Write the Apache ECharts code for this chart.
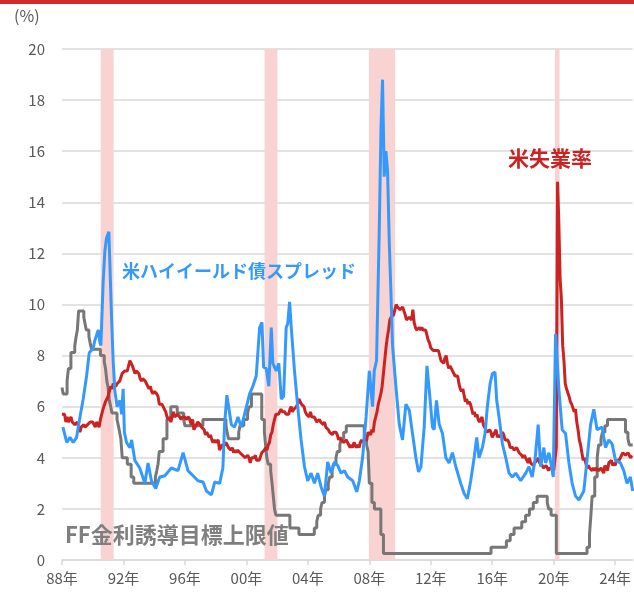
<!DOCTYPE html>
<html>
<head>
<meta charset="utf-8">
<script src="https://cdn.jsdelivr.net/npm/echarts@6/dist/echarts.min.js"></script>
<style>
html,body{margin:0;padding:0;background:#fff;}
#chart{width:634px;height:598px;}
</style>
</head>
<body>
<div id="chart"></div>
<script>
// ---- Data ----
// US unemployment rate, monthly from Jan 1988
const unempStartYear = 1988;
const unempMonthly = [
5.7,5.7,5.7,5.4,5.6,5.4,5.4,5.6,5.4,5.4,5.3,5.3,
5.4,5.2,5.0,5.2,5.2,5.3,5.2,5.2,5.3,5.3,5.4,5.4,
5.4,5.3,5.2,5.4,5.4,5.2,5.5,5.7,5.9,5.9,6.2,6.3,
6.4,6.6,6.8,6.7,6.9,6.9,6.8,6.9,6.9,7.0,7.0,7.3,
7.3,7.4,7.4,7.4,7.6,7.8,7.7,7.6,7.6,7.3,7.4,7.4,
7.3,7.1,7.0,7.1,7.1,7.0,6.9,6.8,6.7,6.8,6.6,6.5,
6.6,6.6,6.5,6.4,6.1,6.1,6.1,6.0,5.9,5.8,5.6,5.5,
5.6,5.4,5.4,5.8,5.6,5.6,5.7,5.7,5.6,5.5,5.6,5.6,
5.6,5.5,5.5,5.6,5.6,5.3,5.5,5.1,5.2,5.2,5.4,5.4,
5.3,5.2,5.2,5.1,4.9,5.0,4.9,4.8,4.9,4.7,4.6,4.7,
4.6,4.6,4.7,4.3,4.4,4.5,4.5,4.5,4.6,4.5,4.4,4.4,
4.3,4.4,4.2,4.3,4.2,4.3,4.3,4.2,4.2,4.1,4.1,4.0,
4.0,4.1,4.0,3.8,4.0,4.0,4.0,4.1,3.9,3.9,3.9,3.9,
4.2,4.2,4.3,4.4,4.3,4.5,4.6,4.9,5.0,5.3,5.5,5.7,
5.7,5.7,5.7,5.9,5.8,5.8,5.8,5.7,5.7,5.7,5.9,6.0,
5.8,5.9,5.9,6.0,6.1,6.3,6.2,6.1,6.1,6.0,5.8,5.7,
5.7,5.6,5.8,5.6,5.6,5.6,5.5,5.4,5.4,5.5,5.4,5.4,
5.3,5.4,5.2,5.2,5.1,5.0,5.0,4.9,5.0,5.0,5.0,4.9,
4.7,4.8,4.7,4.7,4.6,4.6,4.7,4.7,4.5,4.4,4.5,4.4,
4.6,4.5,4.4,4.5,4.4,4.6,4.7,4.6,4.7,4.7,4.7,5.0,
5.0,4.9,5.1,5.0,5.4,5.6,5.8,6.1,6.1,6.5,6.8,7.3,
7.8,8.3,8.7,9.0,9.4,9.5,9.5,9.6,9.8,10.0,9.9,9.9,
9.8,9.8,9.9,9.9,9.6,9.4,9.4,9.5,9.5,9.4,9.8,9.3,
9.1,9.0,9.0,9.1,9.0,9.1,9.0,9.0,9.0,8.8,8.6,8.5,
8.3,8.3,8.2,8.2,8.2,8.2,8.2,8.0,7.8,7.8,7.7,7.9,
8.0,7.7,7.5,7.6,7.5,7.5,7.3,7.2,7.2,7.2,6.9,6.7,
6.6,6.7,6.7,6.2,6.3,6.1,6.2,6.1,5.9,5.7,5.8,5.6,
5.7,5.5,5.4,5.4,5.6,5.3,5.2,5.1,5.0,5.0,5.1,5.0,
4.8,4.9,5.0,5.1,4.8,4.9,4.8,4.9,5.0,4.9,4.7,4.7,
4.7,4.6,4.4,4.4,4.4,4.3,4.3,4.4,4.3,4.2,4.2,4.1,
4.0,4.1,4.0,4.0,3.8,4.0,3.8,3.8,3.7,3.8,3.8,3.9,
4.0,3.8,3.8,3.7,3.6,3.6,3.7,3.6,3.5,3.6,3.6,3.6,
3.5,3.5,4.4,14.8,13.2,11.0,10.2,8.4,7.8,6.9,6.7,6.7,
6.4,6.2,6.1,6.1,5.8,5.9,5.4,5.1,4.7,4.5,4.2,3.9,
4.0,3.8,3.6,3.7,3.6,3.6,3.5,3.6,3.5,3.6,3.6,3.5,
3.5,3.6,3.5,3.4,3.7,3.6,3.5,3.8,3.8,3.9,3.7,3.8,
3.7,3.9,3.9,3.9,4.0,4.1,4.2,4.2,4.1,4.1,4.2,4.1,
4.0,4.1
];

// FF rate target (upper limit): change dates (decimal years) and levels
const ffDates = [1988.00,1988.08,1988.33,1988.42,1988.58,1988.83,1988.92,1989.00,1989.08,1989.42,1989.50,1989.58,1989.75,1989.83,1989.92,
1990.50,1990.75,1990.83,1990.92,1991.00,1991.08,1991.17,1991.25,1991.58,1991.67,1991.75,1991.83,1991.92,1992.25,1992.50,1992.67,
1994.08,1994.17,1994.25,1994.33,1994.58,1994.83,1995.08,1995.50,1995.92,1996.00,1997.17,1998.67,1998.75,1998.83,1999.50,1999.58,1999.83,
2000.08,2000.17,2000.33,2001.00,2001.17,2001.25,2001.33,2001.42,2001.58,2001.67,2001.75,2001.83,2001.92,2002.83,2003.42,
2004.42,2004.58,2004.67,2004.83,2004.92,2005.08,2005.17,2005.33,2005.42,2005.58,2005.67,2005.83,2005.92,2006.08,2006.17,2006.33,2006.50,
2007.67,2007.83,2007.92,2008.00,2008.17,2008.33,2008.75,2008.92,2015.92,2016.92,2017.17,2017.42,2017.92,2018.17,2018.42,2018.67,2018.92,
2019.58,2019.67,2019.83,2020.17,2022.17,2022.33,2022.42,2022.50,2022.67,2022.83,2022.92,2023.08,2023.17,2023.33,2023.50,
2024.67,2024.83,2024.92,2025.14];
const ffRates = [6.75,6.5,7.0,7.5,8.125,8.375,8.75,9.0,9.75,9.5,9.25,9.0,8.75,8.5,8.25,
8.0,7.75,7.5,7.0,6.75,6.25,6.0,5.75,5.5,5.25,5.0,4.75,4.0,3.75,3.25,3.0,
3.25,3.5,3.75,4.25,4.75,5.5,6.0,5.75,5.5,5.25,5.5,5.25,5.0,4.75,5.0,5.25,5.5,
5.75,6.0,6.5,5.5,5.0,4.5,4.0,3.75,3.5,3.0,2.5,2.0,1.75,1.25,1.0,
1.25,1.5,1.75,2.0,2.25,2.5,2.75,3.0,3.25,3.5,3.75,4.0,4.25,4.5,4.75,5.0,5.25,
4.75,4.5,4.25,3.0,2.25,2.0,1.0,0.25,0.5,0.75,1.0,1.25,1.5,1.75,2.0,2.25,2.5,
2.25,2.0,1.75,0.25,0.5,1.0,1.75,2.5,3.25,4.0,4.5,4.75,5.0,5.25,5.5,
5.0,4.75,4.5,4.5];

// US high-yield bond spread
const hyDates = [1988.06,1988.31,1988.52,1988.73,1988.95,1989.17,1989.38,1989.60,1989.77,1990.03,1990.14,1990.36,1990.47,1990.53,1990.68,1990.79,1990.90,1991.05,
1991.23,1991.33,1991.44,1991.59,1991.77,1991.88,1991.98,1992.06,1992.20,1992.42,1992.53,1992.74,1993.06,1993.39,1993.60,1993.82,1994.10,1994.36,1994.69,
1995.12,1995.55,1995.88,1996.20,1996.53,1996.85,1997.18,1997.40,1997.72,1997.94,1998.26,1998.47,1998.58,1998.73,1999.02,1999.23,1999.45,1999.67,1999.88,
2000.21,2000.42,2000.64,2000.86,2001.01,2001.12,2001.29,2001.46,2001.62,2001.72,2001.94,2002.11,2002.27,2002.42,2002.59,2002.69,2002.81,2002.92,
2003.13,2003.34,2003.56,2003.78,2003.99,2004.21,2004.43,2004.64,2004.86,2005.08,2005.29,2005.51,2005.73,2005.94,2006.16,2006.38,2006.59,2006.92,
2007.18,2007.35,2007.56,2007.79,2008.00,2008.21,2008.32,2008.47,2008.65,2008.76,2008.86,2008.97,2009.08,2009.19,2009.30,2009.41,2009.51,2009.73,2009.95,
2010.16,2010.38,2010.60,2010.81,2011.03,2011.20,2011.36,2011.57,2011.75,2011.90,2012.01,2012.11,2012.22,2012.37,2012.55,2012.76,2012.98,
2013.19,2013.41,2013.63,2013.95,2014.17,2014.38,2014.60,2014.82,2014.99,2015.14,2015.36,2015.53,2015.68,2015.86,2016.01,2016.18,2016.29,2016.44,2016.66,2016.88,
2017.09,2017.31,2017.53,2017.85,2018.18,2018.39,2018.60,2018.78,2018.99,2019.15,2019.36,2019.47,2019.69,2019.86,2019.97,2020.12,2020.34,2020.55,2020.77,2020.99,
2021.20,2021.42,2021.64,2021.96,2022.18,2022.40,2022.61,2022.82,2023.15,2023.37,2023.58,2023.80,2024.02,2024.34,2024.56,2024.77,2024.99,2025.14];
const hyValues = [5.2,4.6,4.8,4.6,4.8,5.6,6.3,7.2,8.1,8.3,8.6,9.0,8.5,8.4,10.9,12.1,12.6,12.85,
9.4,7.8,6.6,6.0,6.25,5.7,6.7,5.0,4.6,4.4,4.7,3.9,3.6,3.0,3.8,3.1,2.8,3.25,3.3,
3.6,3.5,4.2,3.5,3.3,3.1,3.05,2.7,2.55,3.05,3.0,3.6,5.3,6.45,5.3,5.2,5.6,5.2,5.7,
6.5,6.8,7.2,9.1,9.3,7.55,7.5,6.8,9.1,7.7,7.4,7.7,6.3,6.4,9.1,9.25,10.1,9.1,
7.4,6.0,4.7,3.65,3.1,3.4,3.0,3.4,2.86,2.5,3.84,3.4,3.84,3.7,3.4,3.5,3.25,3.1,
2.67,3.1,4.0,5.6,7.4,6.0,7.4,7.8,13.0,16.9,18.8,15.0,16.0,15.2,12.4,10.4,8.4,6.8,5.3,
4.7,6.1,5.86,4.95,4.0,3.45,3.65,5.2,7.6,6.65,6.7,5.2,5.1,6.25,5.3,4.95,4.0,
3.8,4.2,3.65,3.0,2.6,2.4,3.1,4.0,4.8,4.0,4.4,4.95,6.0,6.9,7.3,7.35,6.25,5.6,4.55,4.0,
3.4,3.25,3.4,3.1,3.4,3.65,3.25,3.9,5.3,3.65,4.4,3.8,4.2,3.65,3.25,8.85,6.65,5.1,4.95,3.8,
3.0,2.5,2.35,2.7,4.0,5.3,5.9,5.1,5.2,4.4,4.7,4.55,3.9,3.8,3.5,3.0,3.25,2.7];

// Recession periods (decimal years)
const recessionStart = [1990.52, 2001.18, 2007.97, 2020.08];
const recessionEnd   = [1991.36, 2002.02, 2009.68, 2020.38];

// Axis
const xMin = 1988, xMax = 2025.14, xInterval = 4;
const yMin = 0, yMax = 20, yInterval = 2;

// ---- Chart ----
const unempData = unempMonthly.map((v, i) => [unempStartYear + i / 12, v]);
const ffData = ffDates.map((d, i) => [d, ffRates[i]]);
const hyData = hyDates.map((d, i) => [d, hyValues[i]]);
const bands = recessionStart.map((s, i) => [{xAxis: s}, {xAxis: recessionEnd[i]}]);

const FONT = '"Noto Sans CJK JP", "Noto Sans", sans-serif';
const chart = echarts.init(document.getElementById('chart'), null, {renderer: 'canvas'});
chart.setOption({
  animation: false,
  backgroundColor: '#ffffff',
  grid: {left: 62, right: 0, top: 49, bottom: 38, containLabel: false},
  xAxis: {
    type: 'value', min: xMin, max: xMax, interval: xInterval,
    axisLine: {show: true, lineStyle: {color: '#d9d9d9', width: 1.5}},
    axisTick: {show: true, length: 5, lineStyle: {color: '#d9d9d9', width: 1.5}},
    splitLine: {show: false},
    axisLabel: {
      color: '#595959', fontSize: 15, fontFamily: FONT, margin: 11,
      showMaxLabel: false,
      formatter: v => String(Math.round(v) % 100).padStart(2, '0') + '年'
    }
  },
  yAxis: {
    type: 'value', min: yMin, max: yMax, interval: yInterval,
    axisLine: {show: false}, axisTick: {show: false},
    splitLine: {lineStyle: {color: '#d9d9d9', width: 1.5}},
    axisLabel: {color: '#595959', fontSize: 15, fontFamily: FONT, margin: 17}
  },
  series: [
    {
      type: 'line', data: [], z: 1, silent: true,
      markArea: {silent: true, itemStyle: {color: '#f9d2d2'}, data: bands}
    },
    {
      name: 'FF', type: 'line', data: ffData, step: 'end', showSymbol: false, symbol: 'none', z: 3,
      lineStyle: {color: '#777777', width: 3}
    },
    {
      name: 'Unemp', type: 'line', data: unempData, showSymbol: false, symbol: 'none', z: 4,
      lineStyle: {color: '#cc2222', width: 3}
    },
    {
      name: 'HY', type: 'line', data: hyData, showSymbol: false, symbol: 'none', z: 5,
      lineStyle: {color: '#3399ff', width: 3}
    }
  ],
  graphic: [
    {type: 'rect', left: 0, top: 0, z: 100, shape: {width: 634, height: 4}, style: {fill: '#d42a2a'}},
    {type: 'text', left: 14, top: 8, z: 100, style: {text: '(%)', fill: '#595959', font: '16px ' + FONT}},
    {type: 'text', left: 122, top: 262, z: 100, style: {text: '米ハイイールド債スプレッド', fill: '#3399ff', font: 'bold 18px ' + FONT}},
    {type: 'text', left: 508, top: 148, z: 100, style: {text: '米失業率', fill: '#cc2222', font: 'bold 21px ' + FONT}},
    {type: 'text', left: 65, top: 524, z: 100, style: {text: 'FF金利誘導目標上限値', fill: '#7f7f7f', font: 'bold 22px ' + FONT}}
  ]
});
</script>
</body>
</html>
